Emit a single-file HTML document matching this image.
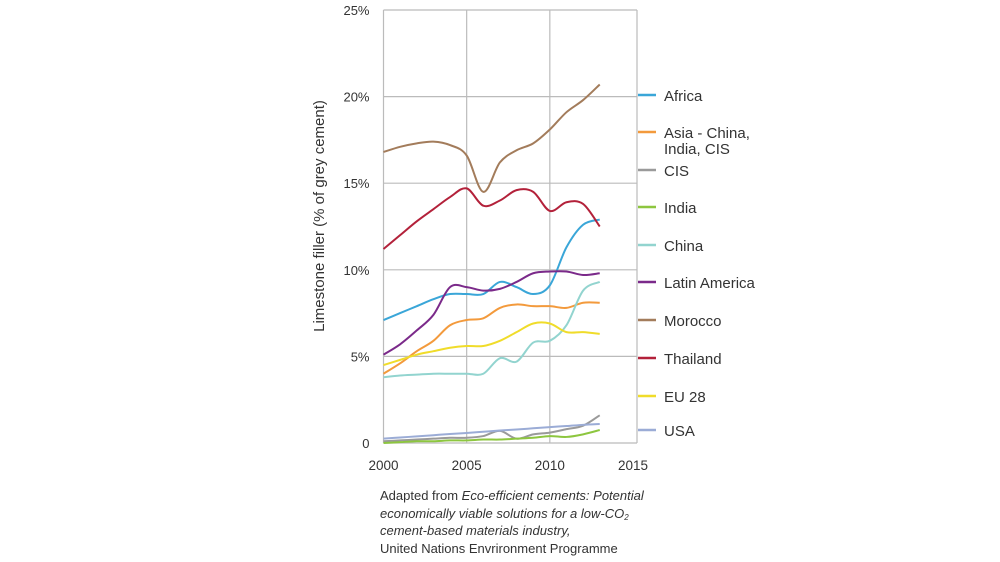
<!DOCTYPE html>
<html><head><meta charset="utf-8"><style>
body{margin:0;background:#fff;width:1000px;height:562px;overflow:hidden;font-family:"Liberation Sans",sans-serif}
svg{position:absolute;left:0;top:0}
.note{position:absolute;left:380px;top:487px;font-size:13px;line-height:17.5px;color:#333}
.note sub{font-size:8px;line-height:0;vertical-align:-2px}
</style></head><body>
<svg width="1000" height="562">
<g id="grid"></g><g id="series"></g><g id="legend"></g>
<text transform="translate(324,216) rotate(-90)" text-anchor="middle" font-size="15" fill="#333">Limestone filler (% of grey cement)</text>
</svg>
<div class="note">Adapted from <i>Eco-efficient cements: Potential<br>economically viable solutions for a low-CO<sub>2</sub><br>cement-based materials industry,</i><br>United Nations Envrironment Programme</div>
<script>
const years=[2000,2001,2002,2003,2004,2005,2006,2007,2008,2009,2010,2011,2012,2013];
const xTicks=[2000,2005,2010,2015];
const yTicks=[0,5,10,15,20,25];
const yTickLabels=["0","5%","10%","15%","20%","25%"];
const seriesNames=["Africa","Asia - China,|India, CIS","CIS","India","China","Latin America","Morocco","Thailand","EU 28","USA"];
const africa=[7.1,7.5,7.9,8.3,8.6,8.6,8.6,9.3,9.0,8.6,9.1,11.3,12.6,12.9];
const asia=[4.0,4.6,5.3,5.9,6.8,7.1,7.2,7.8,8.0,7.9,7.9,7.8,8.1,8.1];
const cis=[0.1,0.15,0.2,0.25,0.3,0.3,0.4,0.7,0.25,0.5,0.6,0.8,1.0,1.6];
const india=[0,0.05,0.1,0.1,0.15,0.15,0.2,0.2,0.25,0.3,0.4,0.35,0.5,0.75];
const china=[3.8,3.9,3.95,4.0,4.0,4.0,4.0,4.9,4.7,5.8,5.9,6.8,8.8,9.3];
const latam=[5.1,5.7,6.5,7.4,9.0,9.0,8.8,8.9,9.3,9.8,9.9,9.9,9.7,9.8];
const morocco=[16.8,17.1,17.3,17.4,17.2,16.6,14.5,16.2,16.9,17.3,18.1,19.1,19.8,20.7];
const thailand=[11.2,12.0,12.8,13.5,14.2,14.7,13.7,14.0,14.6,14.5,13.4,13.9,13.8,12.5];
const eu28=[4.5,4.8,5.1,5.3,5.5,5.6,5.6,5.9,6.4,6.9,6.9,6.4,6.4,6.3];
const usa=[0.25,0.32,0.38,0.45,0.52,0.58,0.65,0.72,0.78,0.85,0.92,0.98,1.05,1.1];
const allSeries=[africa,asia,cis,india,china,latam,morocco,thailand,eu28,usa];
const colors=["#3aa6d8","#f39a3c","#9a9a9a","#8dc63f","#92d4cf","#7b2a8a","#a37c5b","#b3213a","#f0dc2a","#9bacd6"];
const legendY=[96,133,171,208,246,283,321,359,397,431];
const NS="http://www.w3.org/2000/svg";
const X0=383.5,X1=633,Y0=443,Y1=10;
const xs=v=>X0+(v-2000)/15*(X1-X0);
const ys=v=>Y0-v/25*(Y0-Y1);
function mk(t,a,p){const e=document.createElementNS(NS,t);for(const k in a)e.setAttribute(k,a[k]);p.appendChild(e);return e;}
const g=document.getElementById('grid');
yTicks.forEach((t,i)=>{
 const l=mk('line',{x1:X0,x2:X1+4,y1:ys(t),y2:ys(t),stroke:'#bbb','stroke-width':1.2},g);
 
 
 const tx=mk('text',{x:X0-14,y:ys(t)+5,'text-anchor':'end','font-size':13,fill:'#333'},g);
 tx.textContent=yTickLabels[i];
 
 
});
xTicks.forEach(t=>{
 const l=mk('line',{x1:xs(t)+(t==2015?4:0),x2:xs(t)+(t==2015?4:0),y1:Y1,y2:Y0,stroke:'#bbb','stroke-width':1.2},g);
 
 
 const tx=mk('text',{x:xs(t),y:Y0+27,'text-anchor':'middle','font-size':13.5,fill:'#333'},g);
 tx.textContent=t;
 
 
});
function path(vals){
 const p=vals.map((v,i)=>[xs(years[i]),ys(v)]);
 let d='M'+p[0][0]+','+p[0][1];
 for(let i=0;i<p.length-1;i++){
  const a=p[i-1]||p[i],b=p[i],c=p[i+1],e=p[i+2]||c;
  d+=' C'+(b[0]+(c[0]-a[0])/6)+','+(b[1]+(c[1]-a[1])/6)+' '+(c[0]-(e[0]-b[0])/6)+','+(c[1]-(e[1]-b[1])/6)+' '+c[0]+','+c[1];
 }
 return d;
}
const sg=document.getElementById('series'),lg=document.getElementById('legend');
allSeries.forEach((s,i)=>{
 const p=mk('path',{d:path(s),fill:'none',stroke:colors[i],'stroke-width':2},sg);
 
 
 const l=mk('line',{x1:638,x2:656,y1:legendY[i]-1,y2:legendY[i]-1,stroke:colors[i],'stroke-width':2.5},lg);
 
 
 const parts=seriesNames[i].split('|');
 parts.forEach((t,j)=>{
  const tx=mk('text',{x:664,y:legendY[i]+5+j*16,'font-size':15,fill:'#333'},lg);
  tx.textContent=t;
  
  
 });
});
</script>
</body></html>
